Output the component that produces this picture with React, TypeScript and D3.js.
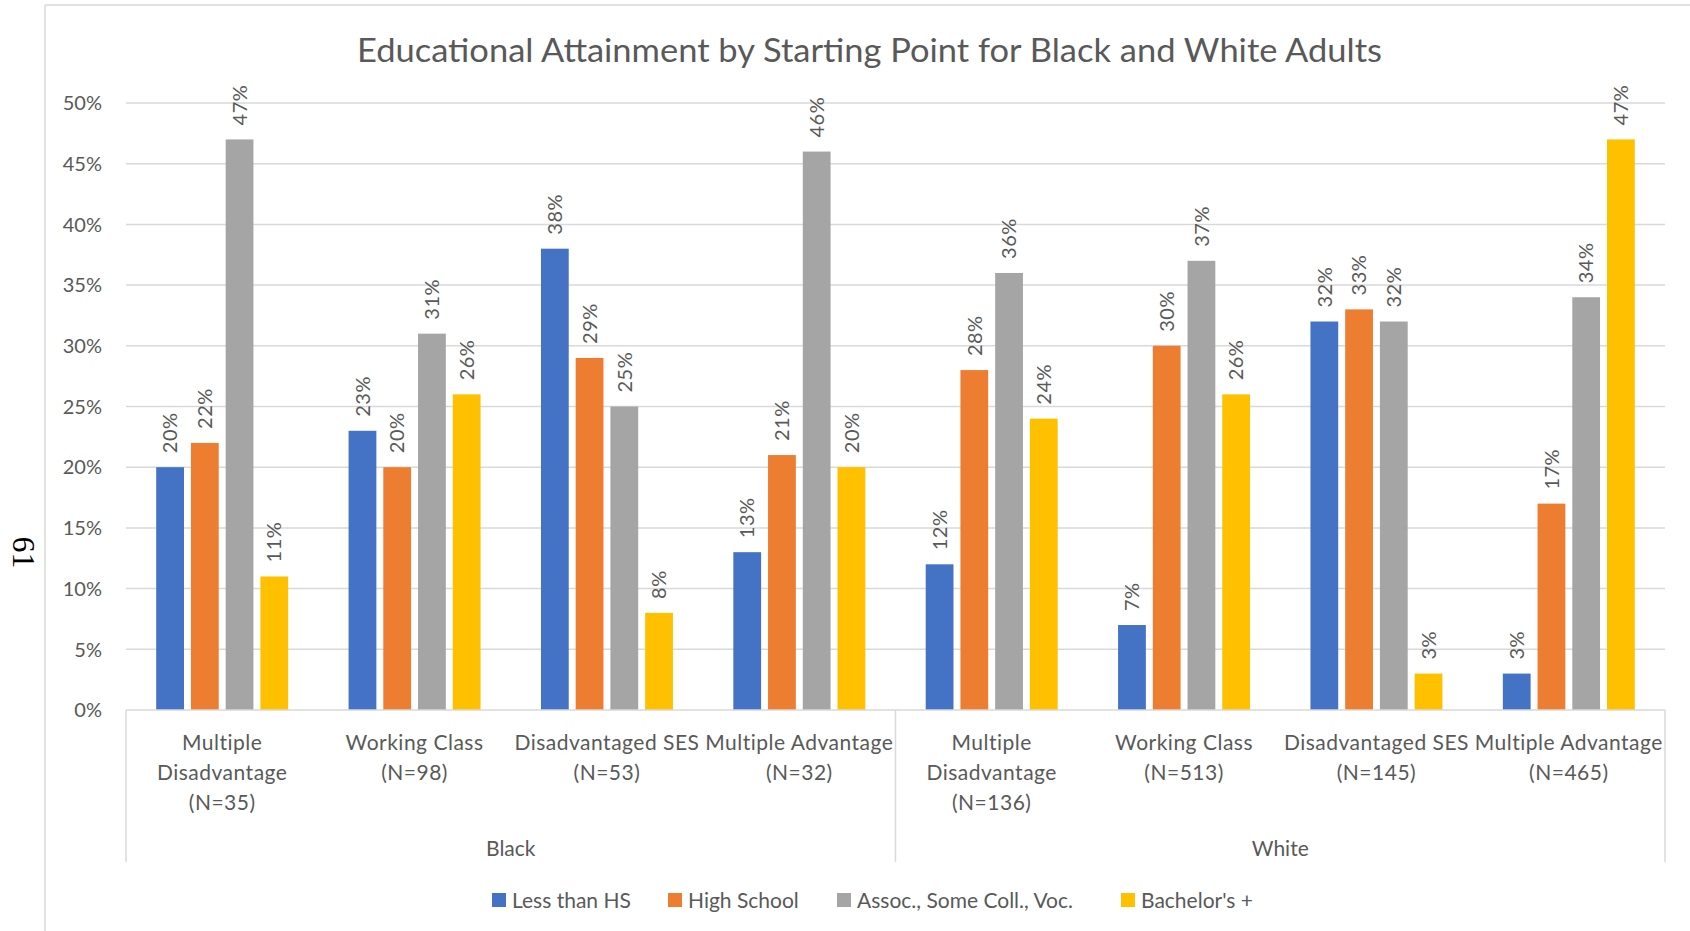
import React from "react";
import * as d3 from "d3";

const categoryIds = ["B-MD", "B-WC", "B-DS", "B-MA", "W-MD", "W-WC", "W-DS", "W-MA"];
const categoryLines = [
  ["Multiple", "Disadvantage", "(N=35)"],
  ["Working Class", "(N=98)"],
  ["Disadvantaged SES", "(N=53)"],
  ["Multiple Advantage", "(N=32)"],
  ["Multiple", "Disadvantage", "(N=136)"],
  ["Working Class", "(N=513)"],
  ["Disadvantaged SES", "(N=145)"],
  ["Multiple Advantage", "(N=465)"],
];
const groupNames = ["Black", "White"];
const groupOfCategory = [0, 0, 0, 0, 1, 1, 1, 1];

const seriesNames = ["Less than HS", "High School", "Assoc., Some Coll., Voc.", "Bachelor's +"];
const seriesColors = ["#4472C4", "#ED7D31", "#A5A5A5", "#FFC000"];
const lessThanHS = [20, 23, 38, 13, 12, 7, 32, 3];
const highSchool = [22, 20, 29, 21, 28, 30, 33, 17];
const assocSome = [47, 31, 25, 46, 36, 37, 32, 34];
const bachelors = [11, 26, 8, 20, 24, 26, 3, 47];
const seriesValues = [lessThanHS, highSchool, assocSome, bachelors];

const yTicks = [0, 5, 10, 15, 20, 25, 30, 35, 40, 45, 50];
const title = "Educational Attainment by Starting Point for Black and White Adults";
const pageNumber = "61";

const FONT = "Lato, 'Open Sans', sans-serif";
const TEXT = "#595959";
const GRID = "#D9D9D9";

export default function App() {
  const W = 1690, H = 931;
  const plotL = 126, plotR = 1665, plotT = 103, plotB = 710;
  const x0 = d3.scaleBand<string>().domain(categoryIds).range([plotL, plotR]).padding(0);
  const bw = x0.bandwidth();
  const x1 = d3
    .scaleBand<number>()
    .domain(d3.range(seriesNames.length))
    .range([bw * 0.157, bw * 0.843])
    .paddingInner(0.2)
    .paddingOuter(0);
  const y = d3.scaleLinear().domain([0, 50]).range([plotB, plotT]);

  const groupExtents = groupNames.map((g, gi) => {
    const cats = categoryIds.filter((_, i) => groupOfCategory[i] === gi);
    const a = x0(cats[0])!;
    const b = x0(cats[cats.length - 1])! + bw;
    return { name: g, a, b };
  });
  const dividerBottom = 862;

  const legendX = [492, 668, 837, 1121];
  const legendY = 900;

  return (
    <svg
      width={W}
      height={H}
      style={{ position: "fixed", left: 0, top: 0, background: "#fff" }}
      fontFamily={FONT}
    >
      <rect x={0} y={0} width={W} height={H} fill="#fff" />
      {/* chart frame */}
      <line x1={45} y1={5} x2={W} y2={5} stroke={GRID} strokeWidth={1.5} />
      <line x1={45} y1={5} x2={45} y2={H} stroke={GRID} strokeWidth={1.5} />

      {/* page number */}
      <text
        transform={`translate(13, 552.5) rotate(90)`}
        textAnchor="middle"
        fontFamily="'Liberation Serif', 'DejaVu Serif', serif"
        fontSize={32}
        fill="#000"
      >
        {pageNumber}
      </text>

      {/* title */}
      <text
        x={869.5}
        y={62}
        textAnchor="middle"
        fontSize={33}
        fill={TEXT}
        textLength={1025}
        lengthAdjust="spacingAndGlyphs"
      >
        {title}
      </text>

      {/* gridlines */}
      {yTicks.map((t) => (
        <g key={t}>
          {t > 0 && (
            <line x1={plotL} x2={plotR} y1={y(t)} y2={y(t)} stroke={GRID} strokeWidth={1.5} />
          )}
          <text x={102} y={y(t)} dy="0.36em" textAnchor="end" fontSize={20} fill={TEXT}>
            {t}%
          </text>
        </g>
      ))}

      {/* bars */}
      {categoryIds.map((c, ci) => (
        <g key={c} transform={`translate(${x0(c)},0)`}>
          {seriesValues.map((vals, si) => {
            const v = vals[ci];
            const bx = x1(si)!;
            const cx = bx + x1.bandwidth() / 2;
            return (
              <g key={si}>
                <rect
                  x={bx}
                  y={y(v)}
                  width={x1.bandwidth()}
                  height={y(0) - y(v)}
                  fill={seriesColors[si]}
                />
                <text
                  transform={`translate(${cx},${y(v) - 14}) rotate(-90)`}
                  dy="0.36em"
                  textAnchor="start"
                  fontSize={20}
                  fill={TEXT}
                  letterSpacing={0.5}
                >
                  {v}%
                </text>
              </g>
            );
          })}
        </g>
      ))}

      {/* category axis */}
      <line x1={plotL} x2={plotR} y1={plotB} y2={plotB} stroke={GRID} strokeWidth={1.5} />
      {[groupExtents[0].a, groupExtents[0].b, groupExtents[1].b].map((xx, i) => (
        <line key={i} x1={xx} x2={xx} y1={plotB} y2={dividerBottom} stroke={GRID} strokeWidth={1.5} />
      ))}
      {categoryIds.map((c, ci) => (
        <text key={c} textAnchor="middle" fontSize={21} fill={TEXT} letterSpacing={0.5}>
          {categoryLines[ci].map((ln, li) => (
            <tspan key={li} x={x0(c)! + bw / 2} y={750 + li * 30}>
              {ln}
            </tspan>
          ))}
        </text>
      ))}
      {groupExtents.map((g) => (
        <text key={g.name} x={(g.a + g.b) / 2} y={856} textAnchor="middle" fontSize={21} fill={TEXT}>
          {g.name}
        </text>
      ))}

      {/* legend */}
      {seriesNames.map((s, si) => (
        <g key={s}>
          <rect x={legendX[si]} y={legendY - 7} width={14} height={14} fill={seriesColors[si]} />
          <text x={legendX[si] + 20} y={legendY} dy="0.36em" fontSize={21} fill={TEXT}>
            {s}
          </text>
        </g>
      ))}
    </svg>
  );
}
